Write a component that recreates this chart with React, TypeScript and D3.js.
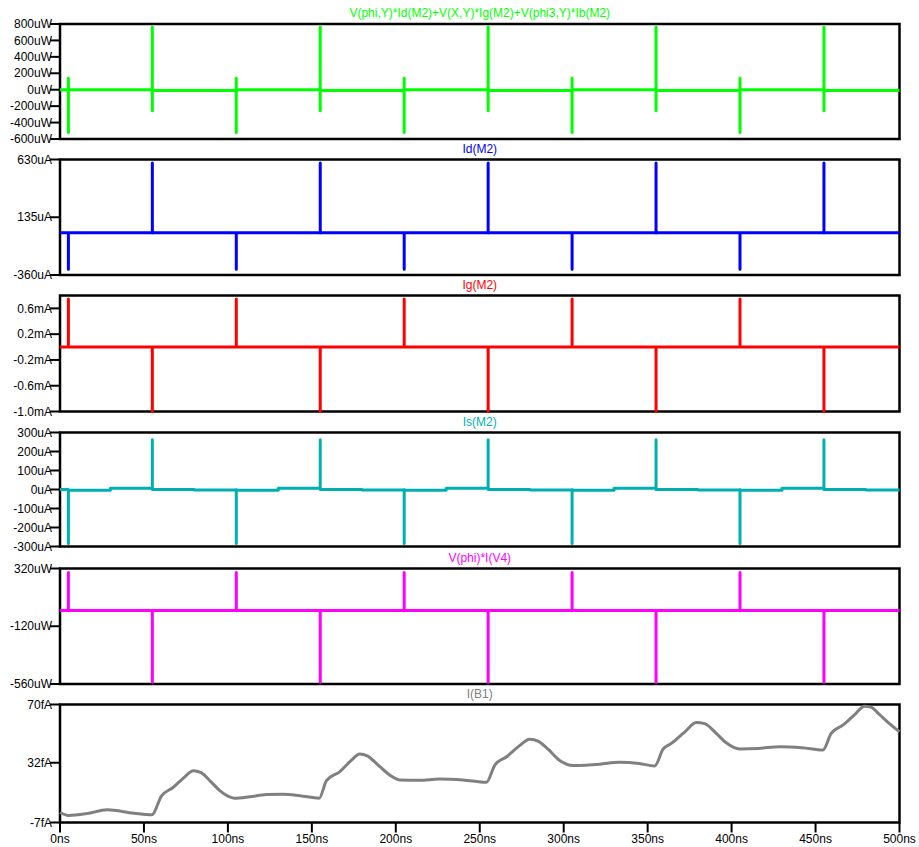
import React from "react";
import * as d3 from "d3";

// ---- time axis ----
const timeDomain = [0, 500];
const timeTicks = [0, 50, 100, 150, 200, 250, 300, 350, 400, 450, 500];
const timeTickLabels = ["0ns", "50ns", "100ns", "150ns", "200ns", "250ns", "300ns", "350ns", "400ns", "450ns", "500ns"];

// ---- switching events (ns) ----
const spikeTimes = [5, 55, 105, 155, 205, 255, 305, 355, 405, 455];

// Panel 1: V(phi,Y)*Id(M2)+V(X,Y)*Ig(M2)+V(phi3,Y)*Ib(M2)  (uW)
const pwrSpikeHi = [140, 765, 140, 765, 140, 765, 140, 765, 140, 765];
const pwrSpikeLo = [-520, -255, -520, -255, -520, -255, -520, -255, -520, -255];
const pwrBaseT = [0, 5, 55, 105, 155, 205, 255, 305, 355, 405, 455];
const pwrBaseV = [0, 0, -10, 0, -10, 0, -10, 0, -10, 0, -10];
const pwrTicks = [-600, -400, -200, 0, 200, 400, 600, 800];
const pwrTickLabels = ["-600uW", "-400uW", "-200uW", "0uW", "200uW", "400uW", "600uW", "800uW"];

// Panel 2: Id(M2) (uA)
const idSpikeHi = [0, 601, 0, 601, 0, 601, 0, 601, 0, 601];
const idSpikeLo = [-311, 0, -311, 0, -311, 0, -311, 0, -311, 0];
const idBaseT = [0];
const idBaseV = [2];
const idTicks = [-360, 135, 630];
const idTickLabels = ["-360uA", "135uA", "630uA"];

// Panel 3: Ig(M2) (mA)
const igSpikeHi = [0.745, 0, 0.745, 0, 0.745, 0, 0.745, 0, 0.745, 0];
const igSpikeLo = [0, -1.0, 0, -1.0, 0, -1.0, 0, -1.0, 0, -1.0];
const igBaseT = [0];
const igBaseV = [0];
const igTicks = [-1.0, -0.6, -0.2, 0.2, 0.6];
const igTickLabels = ["-1.0mA", "-0.6mA", "-0.2mA", "0.2mA", "0.6mA"];

// Panel 4: Is(M2) (uA)
const isSpikeHi = [0, 262, 0, 262, 0, 262, 0, 262, 0, 262];
const isSpikeLo = [-284, 0, -284, 0, -284, 0, -284, 0, -284, 0];
const isBaseT = [0, 5, 30, 55, 80, 105, 130, 155, 180, 205, 230, 255, 280, 305, 330, 355, 380, 405, 430, 455, 480];
const isBaseV = [0, -4, 7, 0, -3, -4, 7, 0, -3, -4, 7, 0, -3, -4, 7, 0, -3, -4, 7, 0, -3];
const isTicks = [-300, -200, -100, 0, 100, 200, 300];
const isTickLabels = ["-300uA", "-200uA", "-100uA", "0uA", "100uA", "200uA", "300uA"];

// Panel 5: V(phi)*I(V4) (uW)
const v4SpikeHi = [290, 0, 290, 0, 290, 0, 290, 0, 290, 0];
const v4SpikeLo = [0, -547, 0, -547, 0, -547, 0, -547, 0, -547];
const v4BaseT = [0];
const v4BaseV = [0];
const v4Ticks = [-560, -120, 320];
const v4TickLabels = ["-560uW", "-120uW", "320uW"];

// Panel 6: I(B1) (fA)
const b1Time = [0, 5, 16, 28, 44, 54.6, 60.5, 67.5, 74, 79.4, 84, 90, 95, 100, 104, 113, 123, 133, 143, 154.4, 158.7, 166.7, 173, 178.6, 183, 189, 195.4, 202.4, 214, 226, 240, 254, 259, 266, 273, 279.8, 285, 291, 297.6, 305.6, 321.4, 333, 345, 354.2, 359.1, 364.1, 372, 379, 384, 391, 396.8, 404.8, 416, 428.6, 442, 454.4, 459.3, 466.3, 473, 479.2, 483, 488, 494, 500];
const b1Value = [-0.5, -2.4, -1.2, 1.3, -0.9, -2, 10.4, 16, 22.5, 26.8, 25.5, 19.5, 14, 10.2, 8.9, 9.8, 11.2, 11.5, 10.5, 8.9, 20.3, 26.2, 33, 37.7, 36.5, 31, 24.8, 20.8, 20.5, 21.4, 20.8, 19.3, 30.5, 35.9, 42.5, 47.4, 46, 40.5, 33.5, 30.2, 31, 32.3, 31.5, 29.9, 40.7, 44.6, 52, 58.3, 57.5, 51, 45, 41, 41.3, 42.5, 41.8, 40.3, 51.1, 56.5, 63, 68.9, 68.3, 63.5, 57.5, 52.2];
const b1Ticks = [-7, 32, 70];
const b1TickLabels = ["-7fA", "32fA", "70fA"];

function buildTrace(baseT: number[], baseV: number[], spT: number[], spHi: number[], spLo: number[]): [number, number][] {
  const pts: [number, number][] = [];
  const valAt = (t: number) => {
    let v = baseV[0];
    baseT.forEach((bt, i) => { if (bt <= t) v = baseV[i]; });
    return v;
  };
  const valBefore = (t: number) => {
    let v = baseV[0];
    baseT.forEach((bt, i) => { if (bt < t) v = baseV[i]; });
    return v;
  };
  const times = Array.from(new Set([...baseT, ...spT, timeDomain[1]])).sort((a, b) => a - b);
  for (const t of times) {
    pts.push([t, valBefore(t)]);
    const k = spT.indexOf(t);
    if (k >= 0) {
      pts.push([t, spHi[k]]);
      pts.push([t, spLo[k]]);
    }
    pts.push([t, valAt(t)]);
  }
  return pts;
}

const panels = [
  { title: "V(phi,Y)*Id(M2)+V(X,Y)*Ig(M2)+V(phi3,Y)*Ib(M2)", color: "#00ff00", top: 24, bottom: 139, domain: [-600, 800], ticks: pwrTicks, labels: pwrTickLabels, smooth: false, pts: buildTrace(pwrBaseT, pwrBaseV, spikeTimes, pwrSpikeHi, pwrSpikeLo) },
  { title: "Id(M2)", color: "#0000ff", top: 159.5, bottom: 275, domain: [-360, 630], ticks: idTicks, labels: idTickLabels, smooth: false, pts: buildTrace(idBaseT, idBaseV, spikeTimes, idSpikeHi, idSpikeLo) },
  { title: "Ig(M2)", color: "#ff0000", top: 295.5, bottom: 411.5, domain: [-1.0, 0.8], ticks: igTicks, labels: igTickLabels, smooth: false, pts: buildTrace(igBaseT, igBaseV, spikeTimes, igSpikeHi, igSpikeLo) },
  { title: "Is(M2)", color: "#00b0b0", top: 432.5, bottom: 546.5, domain: [-300, 300], ticks: isTicks, labels: isTickLabels, smooth: false, pts: buildTrace(isBaseT, isBaseV, spikeTimes, isSpikeHi, isSpikeLo) },
  { title: "V(phi)*I(V4)", color: "#ff00ff", top: 568.5, bottom: 684, domain: [-560, 320], ticks: v4Ticks, labels: v4TickLabels, smooth: false, pts: buildTrace(v4BaseT, v4BaseV, spikeTimes, v4SpikeHi, v4SpikeLo) },
  { title: "I(B1)", color: "#808080", top: 704.5, bottom: 822.5, domain: [-7, 70], ticks: b1Ticks, labels: b1TickLabels, smooth: true, pts: b1Time.map((t, i) => [t, b1Value[i]] as [number, number]) },
];

const W = 919;
const H = 847;
const left = 60;
const right = 899.5;
const font = "'Liberation Sans', Arial, Helvetica, sans-serif";

export default function App() {
  const x = d3.scaleLinear().domain(timeDomain).range([left, right]);
  const last = panels[panels.length - 1];
  return (
    <svg width={W} height={H} style={{ position: "absolute", left: 0, top: 0, background: "#fff" }} fontFamily={font} fontSize={12}>
      <rect x={0} y={0} width={W} height={H} fill="#fff" />
      {panels.map((p, pi) => {
        const y = d3.scaleLinear().domain(p.domain).range([p.bottom, p.top]);
        const line = d3.line<[number, number]>().x((d) => x(d[0])).y((d) => y(d[1])).curve(p.smooth ? d3.curveMonotoneX : d3.curveLinear);
        return (
          <g key={pi}>
            <rect x={left} y={p.top} width={right - left} height={p.bottom - p.top} fill="none" stroke="#000" strokeWidth={2.5} />
            {p.ticks.map((t, i) => (
              <g key={i}>
                <line x1={left - 10} x2={left} y1={y(t)} y2={y(t)} stroke="#000" strokeWidth={2} />
                <text x={left - 8} y={y(t)} dy="0.35em" textAnchor="end" fill="#000">{p.labels[i]}</text>
              </g>
            ))}
            <path d={line(p.pts) || ""} fill="none" stroke={p.color} strokeWidth={3} strokeLinejoin="round" strokeLinecap="butt" />
            <text x={(left + right) / 2} y={p.top - 7} textAnchor="middle" fill={p.color}>{p.title}</text>
          </g>
        );
      })}
      {timeTicks.map((t, i) => (
        <g key={i}>
          <line x1={x(t)} x2={x(t)} y1={last.bottom} y2={last.bottom + 10} stroke="#000" strokeWidth={2} />
          <text x={x(t)} y={843} textAnchor="middle" fill="#000">{timeTickLabels[i]}</text>
        </g>
      ))}
    </svg>
  );
}
